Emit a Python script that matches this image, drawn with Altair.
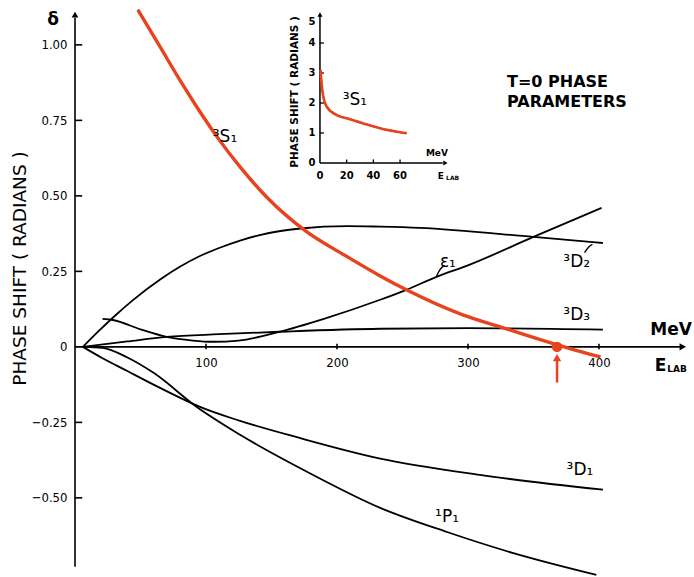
import altair as alt
import pandas as pd

FONT = "DejaVu Sans Condensed, DejaVu Sans, sans-serif"
FONTW = "DejaVu Sans, sans-serif"
RED = "#e8431c"

# ---- main chart data (E_lab in MeV, phase shift in radians) ----
s1_E = [48, 65, 80, 95, 109, 126, 147, 176, 208, 233, 253, 296, 327, 368, 401]
s1_d = [1.116, 0.993, 0.884, 0.781, 0.692, 0.596, 0.493, 0.384, 0.298, 0.235, 0.189, 0.106, 0.063, 0.007, -0.033]

d2_E = [6, 19, 30.5, 44, 65, 80, 95, 111, 126, 141, 172, 208, 233, 263, 350, 403]
d2_d = [0, 0.056, 0.103, 0.154, 0.223, 0.265, 0.300, 0.329, 0.352, 0.370, 0.392, 0.40, 0.398, 0.394, 0.364, 0.344]

e1_E = [21, 29, 50, 70, 90, 105, 125, 156, 190, 233, 253, 276, 300, 350, 402]
e1_d = [0.093, 0.089, 0.058, 0.033, 0.021, 0.017, 0.021, 0.05, 0.093, 0.156, 0.189, 0.232, 0.27, 0.364, 0.46]

d3_E = [6, 40, 70, 110, 156, 233, 300, 403]
d3_d = [0, 0.018, 0.033, 0.042, 0.05, 0.06, 0.062, 0.057]

d1_E = [6, 20, 40, 60, 80, 95, 126, 170, 233, 309, 403]
d1_d = [0, -0.035, -0.08, -0.125, -0.168, -0.198, -0.245, -0.3, -0.37, -0.424, -0.473]

p1_E = [6, 21, 40, 60, 93, 126, 180, 233, 284, 334, 398]
p1_d = [0, -0.003, -0.035, -0.086, -0.199, -0.291, -0.42, -0.533, -0.613, -0.682, -0.755]

zero_E = [368]          # where 3S1 crosses zero
y_ticks = [-0.5, -0.25, 0.25, 0.5, 0.75, 1.0]
y_label_vals = [-0.5, -0.25, 0, 0.25, 0.5, 0.75, 1.0]
x_ticks = [100, 200, 300, 400]

# ---- inset data ----
in_E = [0.5, 1.2, 2.5, 5, 12.5, 20, 32.5, 45, 65]
in_d = [3.1, 2.66, 2.21, 1.88, 1.6, 1.49, 1.32, 1.16, 0.99]
in_xt = [20, 40, 60]
in_xl = [0, 20, 40, 60]
in_yt = [1, 2, 3, 4]
in_yl = [0, 1, 2, 3, 4, 5]

# ---- scales ----
xs = alt.Scale(domain=[0, 469.5], nice=False, zero=False)
ys = alt.Scale(domain=[-0.762, 1.132], nice=False, zero=False)
ixs = alt.Scale(domain=[-183.5, 277.2], nice=False, zero=False)
iys = alt.Scale(domain=[-13.8, 5.267], nice=False, zero=False)

xaxis = alt.Axis(orient="bottom", offset=-230, values=x_ticks, domain=False, ticks=False,
                 grid=False, labelFont=FONT, labelFontSize=13, labelColor="black",
                 labelPadding=9, title=None)
yaxis = alt.Axis(orient="left", values=y_label_vals, domain=False, ticks=False, grid=False,
                 labelExpr="datum.value == 0 ? '0' : format(datum.value, '.2f')",
                 labelFont=FONT, labelFontSize=13, labelColor="black", labelPadding=8,
                 title="PHASE SHIFT ( RADIANS )", titleFont=FONTW, titleFontSize=18.5,
                 titleFontWeight="normal", titleColor="black", titleX=-56, titleY=263,
                 titleAngle=270, titleAlign="center", titleBaseline="middle")


def X(f="E"):
    return alt.X(f"{f}:Q", scale=xs, axis=xaxis)


def Y(f="d"):
    return alt.Y(f"{f}:Q", scale=ys, axis=yaxis)


def IX(f="E"):
    return alt.X(f"{f}:Q", scale=ixs, axis=None)


def IY(f="d"):
    return alt.Y(f"{f}:Q", scale=iys, axis=None)


# ---- tables ----
curves = pd.concat([
    pd.DataFrame({"E": d2_E, "d": d2_d, "s": "3D2"}),
    pd.DataFrame({"E": e1_E, "d": e1_d, "s": "e1"}),
    pd.DataFrame({"E": d3_E, "d": d3_d, "s": "3D3"}),
    pd.DataFrame({"E": d1_E, "d": d1_d, "s": "3D1"}),
    pd.DataFrame({"E": p1_E, "d": p1_d, "s": "1P1"}),
])
s1 = pd.DataFrame({"E": s1_E, "d": s1_d})

axis_lines = pd.DataFrame({"E": [0, 0], "E2": [0, 462], "d": [-0.728, 0], "d2": [1.09, 0]})
ytick_df = pd.DataFrame({"d": y_ticks, "E": 0, "E2": 5.5})
xtick_df = pd.DataFrame({"E": x_ticks, "d": -0.008, "d2": 0.01})
arrow_up = pd.DataFrame({"E": [0], "d": [1.1]})
arrow_right = pd.DataFrame({"E": [464], "d": [0]})

dot_df = pd.DataFrame({"E": zero_E, "d": [0]})
red_arrow = pd.DataFrame({"E": zero_E, "d": [-0.118], "d2": [-0.045]})
red_head = pd.DataFrame({"E": zero_E, "d": [-0.036]})

main_layers = [
    alt.Chart(axis_lines).mark_rule(color="black", strokeWidth=1.6).encode(
        x=X(), x2="E2:Q", y=Y(), y2="d2:Q"),
    alt.Chart(ytick_df).mark_rule(color="black", strokeWidth=1.6).encode(
        x=X(), x2="E2:Q", y=Y()),
    alt.Chart(xtick_df).mark_rule(color="black", strokeWidth=1.6).encode(
        x=X(), y=Y(), y2="d2:Q"),
    alt.Chart(arrow_up).mark_point(shape="triangle-up", filled=True, color="black",
                                   size=45, opacity=1).encode(x=X(), y=Y()),
    alt.Chart(arrow_right).mark_point(shape="triangle-right", filled=True, color="black",
                                      size=55, opacity=1).encode(x=X(), y=Y()),
    alt.Chart(curves).mark_line(color="black", strokeWidth=1.8, interpolate="monotone").encode(
        x=X(), y=Y(), detail="s:N"),
    alt.Chart(s1).mark_line(color="#222222", strokeWidth=2, interpolate="monotone").encode(
        x=X(), y=Y()),
    alt.Chart(s1).mark_line(color=RED, strokeWidth=3.4, interpolate="monotone").encode(
        x=X(), y=Y()),
    alt.Chart(red_arrow).mark_rule(color=RED, strokeWidth=2.5).encode(
        x=X(), y=Y(), y2="d2:Q"),
    alt.Chart(red_head).mark_point(shape="triangle-up", filled=True, color=RED, size=70,
                                   opacity=1).encode(x=X(), y=Y()),
    alt.Chart(dot_df).mark_point(shape="circle", filled=True, color=RED, size=110,
                                 opacity=1).encode(x=X(), y=Y()),
]

# leaders for eps1 and 3D2 labels
lead_df = pd.DataFrame({"E": [276, 278.5, 282, 389, 392, 395],
                        "d": [0.234, 0.255, 0.27, 0.312, 0.33, 0.339],
                        "s": ["a", "a", "a", "b", "b", "b"]})
main_layers.append(
    alt.Chart(lead_df).mark_line(color="black", strokeWidth=1.4, interpolate="monotone").encode(
        x=X(), y=Y(), detail="s:N"))

# labels
big_labels = pd.DataFrame({
    "E": [114.5, 284.7, 383, 383, 385.5, 284],
    "d": [0.695, 0.281, 0.281, 0.106, -0.407, -0.563],
    "t": ["³S₁", "ε₁", "³D₂", "³D₃", "³D₁", "¹P₁"],
})
main_layers.append(
    alt.Chart(big_labels).mark_text(font=FONTW, fontSize=17, color="black").encode(
        x=X(), y=Y(), text="t:N"))

title_df = pd.DataFrame({"E": [329.8, 329.8], "d": [0.877, 0.811],
                         "t": ["T=0  PHASE", "PARAMETERS"]})
main_layers.append(
    alt.Chart(title_df).mark_text(font=FONTW, fontSize=16, fontWeight="bold", align="left",
                                  color="black").encode(x=X(), y=Y(), text="t:N"))

unit_df = pd.DataFrame({"E": [455, 447, -16.8], "d": [0.056, -0.063, 1.083],
                        "t": ["MeV", "E", "δ"]})
main_layers.append(
    alt.Chart(unit_df).mark_text(font=FONTW, fontSize=17, fontWeight="bold",
                                 color="black").encode(x=X(), y=Y(), text="t:N"))
lab_df = pd.DataFrame({"E": [452.2], "d": [-0.074], "t": ["LAB"]})
main_layers.append(
    alt.Chart(lab_df).mark_text(font=FONTW, fontSize=9, fontWeight="bold", align="left",
                                color="black").encode(x=X(), y=Y(), text="t:N"))

main = alt.layer(*main_layers)

# ---- inset ----
in_curve = pd.DataFrame({"E": in_E, "d": in_d})
in_axes = pd.DataFrame({"E": [0, 0], "E2": [0, 92], "d": [0, 0], "d2": [4.9, 0]})
in_xt_df = pd.DataFrame({"E": in_xt, "d": 0, "d2": 0.12})
in_yt_df = pd.DataFrame({"d": in_yt, "E": 0, "E2": 3})
in_up = pd.DataFrame({"E": [0], "d": [4.95]})
in_right = pd.DataFrame({"E": [94], "d": [0]})
in_xl_df = pd.DataFrame({"E": in_xl, "d": -0.42, "t": [str(v) for v in in_xl]})
in_yl_df = pd.DataFrame({"d": [0, 1, 2, 3, 4, 4.7], "E": -6, "t": [str(v) for v in in_yl]})

inset_layers = [
    alt.Chart(in_axes).mark_rule(color="black", strokeWidth=1.5).encode(
        x=IX(), x2="E2:Q", y=IY(), y2="d2:Q"),
    alt.Chart(in_xt_df).mark_rule(color="black", strokeWidth=1.3).encode(
        x=IX(), y=IY(), y2="d2:Q"),
    alt.Chart(in_yt_df).mark_rule(color="black", strokeWidth=1.3).encode(
        x=IX(), x2="E2:Q", y=IY()),
    alt.Chart(in_up).mark_point(shape="triangle-up", filled=True, color="black", size=25,
                                opacity=1).encode(x=IX(), y=IY()),
    alt.Chart(in_right).mark_point(shape="triangle-right", filled=True, color="black", size=25,
                                   opacity=1).encode(x=IX(), y=IY()),
    alt.Chart(in_curve).mark_line(color="#222222", strokeWidth=1.6, interpolate="monotone").encode(
        x=IX(), y=IY()),
    alt.Chart(in_curve).mark_line(color=RED, strokeWidth=2.6, interpolate="monotone").encode(
        x=IX(), y=IY()),
    alt.Chart(in_xl_df).mark_text(font=FONTW, fontSize=10, fontWeight="bold",
                                  color="black").encode(x=IX(), y=IY(), text="t:N"),
    alt.Chart(in_yl_df).mark_text(font=FONTW, fontSize=10, fontWeight="bold",
                                  color="black").encode(x=IX(), y=IY(), text="t:N"),
    alt.Chart(pd.DataFrame({"E": [-18.7], "d": [2.37], "t": ["PHASE SHIFT ( RADIANS )"]}))
    .mark_text(font=FONTW, fontSize=10.5, fontWeight="bold", angle=270, color="black")
    .encode(x=IX(), y=IY(), text="t:N"),
    alt.Chart(pd.DataFrame({"E": [26.2], "d": [2.1], "t": ["³S₁"]}))
    .mark_text(font=FONTW, fontSize=17, color="black").encode(x=IX(), y=IY(), text="t:N"),
    alt.Chart(pd.DataFrame({"E": [87.6, 90.6], "d": [0.33, -0.43], "t": ["MeV", "E"]}))
    .mark_text(font=FONTW, fontSize=9, fontWeight="bold", color="black")
    .encode(x=IX(), y=IY(), text="t:N"),
    alt.Chart(pd.DataFrame({"E": [94.5], "d": [-0.5], "t": ["LAB"]}))
    .mark_text(font=FONTW, fontSize=6, fontWeight="bold", align="left", color="black")
    .encode(x=IX(), y=IY(), text="t:N"),
]
inset = alt.layer(*inset_layers)

chart = alt.layer(main, inset).resolve_scale(x="independent", y="independent").properties(
    width=615, height=572,
    padding={"left": 75, "top": 5, "right": 4, "bottom": 0},
    autosize=alt.AutoSizeParams(type="none"),
    background="white",
).configure_view(stroke=None)

chart.save("out.html", embed_options={"renderer": "svg", "actions": False})
